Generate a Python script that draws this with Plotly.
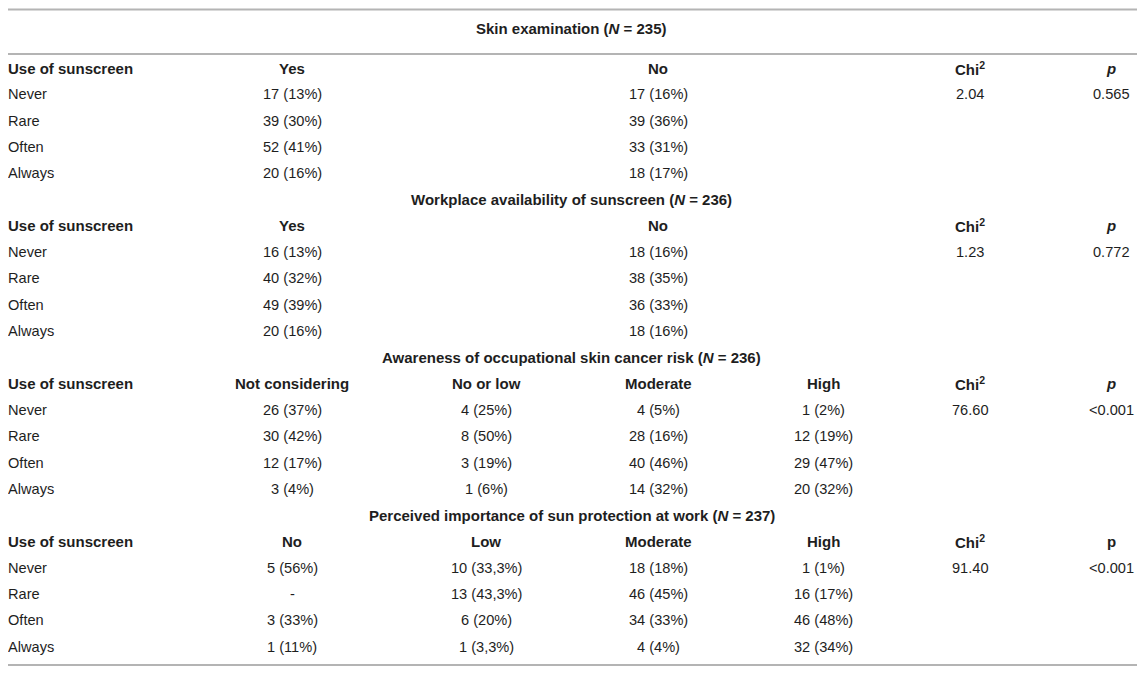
import plotly.graph_objects as go

# ── data ──────────────────────────────────────────────────────────────
SECTION_TITLES = [
    "Skin examination",
    "Workplace availability of sunscreen",
    "Awareness of occupational skin cancer risk",
    "Perceived importance of sun protection at work",
]
SECTION_N = [235, 236, 236, 237]
ROW_LABEL = "Use of sunscreen"
USE_LEVELS = ["Never", "Rare", "Often", "Always"]

SKIN_GROUPS = ["Yes", "No"]
SKIN_CELLS = [
    ["17 (13%)", "39 (30%)", "52 (41%)", "20 (16%)"],
    ["17 (16%)", "39 (36%)", "33 (31%)", "18 (17%)"],
]

WORK_GROUPS = ["Yes", "No"]
WORK_CELLS = [
    ["16 (13%)", "40 (32%)", "49 (39%)", "20 (16%)"],
    ["18 (16%)", "38 (35%)", "36 (33%)", "18 (16%)"],
]

AWARE_GROUPS = ["Not considering", "No or low", "Moderate", "High"]
AWARE_CELLS = [
    ["26 (37%)", "30 (42%)", "12 (17%)", "3 (4%)"],
    ["4 (25%)", "8 (50%)", "3 (19%)", "1 (6%)"],
    ["4 (5%)", "28 (16%)", "40 (46%)", "14 (32%)"],
    ["1 (2%)", "12 (19%)", "29 (47%)", "20 (32%)"],
]

IMPORT_GROUPS = ["No", "Low", "Moderate", "High"]
IMPORT_CELLS = [
    ["5 (56%)", "-", "3 (33%)", "1 (11%)"],
    ["10 (33,3%)", "13 (43,3%)", "6 (20%)", "1 (3,3%)"],
    ["18 (18%)", "46 (45%)", "34 (33%)", "4 (4%)"],
    ["1 (1%)", "16 (17%)", "46 (48%)", "32 (34%)"],
]

CHI2 = [2.04, 1.23, 76.60, 91.40]
P_VALUES = ["0.565", "0.772", "<0.001", "<0.001"]
P_ITALIC = [True, True, True, False]

# ── layout constants (page pixel coordinates) ─────────────────────────
PAGE_W, PAGE_H = 1145, 674
OFF = 8  # body margin of the html page
FONT = "Liberation Sans, Arial, Helvetica, sans-serif"
INK = "#1e1e1e"
RULE = "#b4b4b4"
PITCH = 26.3
Y0 = 68  # header row of first section
COL4_X = [292, 486, 658, 823]
COL2_X = [292, 658]
CHI_X, P_X, LABEL_X = 970, 1111, 8.5

sections = [
    (SKIN_GROUPS, SKIN_CELLS),
    (WORK_GROUPS, WORK_CELLS),
    (AWARE_GROUPS, AWARE_CELLS),
    (IMPORT_GROUPS, IMPORT_CELLS),
]

annotations = []


def cell(x, y, text, anchor="center", bold=False, size=14.6):
    if bold:
        text = f"<b>{text}</b>"
    annotations.append(dict(
        x=x, y=y, xref="x", yref="y", text=text, showarrow=False,
        xanchor=anchor, yanchor="middle",
        xshift=-3 if anchor == "left" else 0,
        font=dict(family=FONT, size=size, color=INK),
    ))


for s, (groups, cells) in enumerate(sections):
    head_y = Y0 + s * 6 * PITCH
    title_y = 28 if s == 0 else head_y - PITCH
    cell(PAGE_W / 2 - 1, title_y,
         f"{SECTION_TITLES[s]} (<i>N</i> = {SECTION_N[s]})", bold=True, size=15)

    xs = COL4_X if len(groups) == 4 else COL2_X
    cell(LABEL_X, head_y, ROW_LABEL, anchor="left", bold=True, size=15)
    for gx, g in zip(xs, groups):
        cell(gx, head_y, g, bold=True, size=15)
    cell(CHI_X, head_y, "Chi<sup>2</sup>", bold=True, size=15)
    cell(P_X, head_y, "<i>p</i>" if P_ITALIC[s] else "p", bold=True, size=15)

    for r, lvl in enumerate(USE_LEVELS):
        ry = head_y + (r + 1) * PITCH
        cell(LABEL_X, ry, lvl, anchor="left")
        for gx, col in zip(xs, cells):
            cell(gx, ry, col[r])
        if r == 0:
            cell(CHI_X, ry, f"{CHI2[s]:.2f}")
            cell(P_X, ry, P_VALUES[s].replace("<", "&lt;"))

shapes = [
    dict(type="line", xref="x", yref="y", x0=OFF, x1=PAGE_W, y0=y, y1=y,
         line=dict(color=RULE, width=2))
    for y in (OFF + 1.5, 54, 665)
]

fig = go.Figure()
fig.update_layout(
    width=PAGE_W - OFF, height=PAGE_H - OFF,
    margin=dict(l=0, r=0, t=0, b=0),
    paper_bgcolor="white", plot_bgcolor="white",
    xaxis=dict(range=[OFF, PAGE_W], visible=False, fixedrange=True),
    yaxis=dict(range=[PAGE_H, OFF], visible=False, fixedrange=True),
    annotations=annotations,
    shapes=shapes,
    showlegend=False,
)
fig.write_html("out.html")
